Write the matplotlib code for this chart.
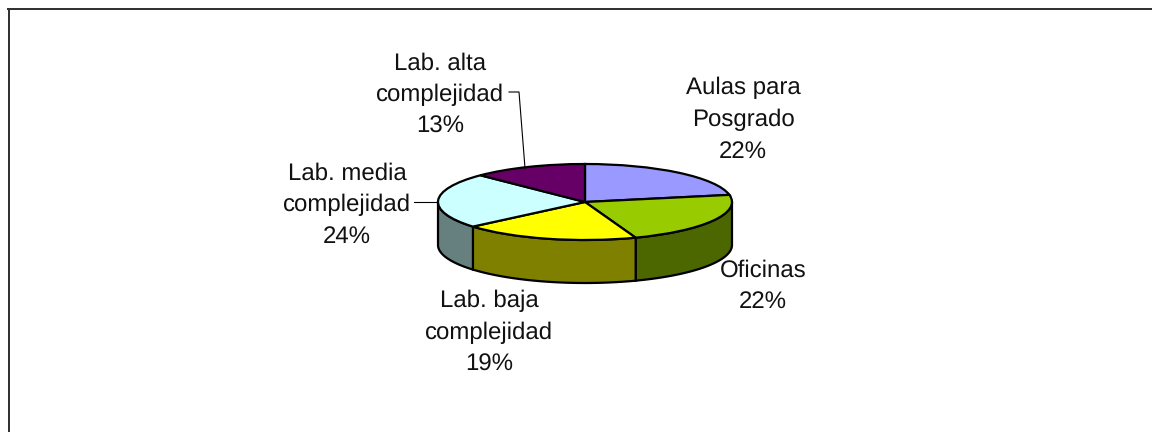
import numpy as np
import matplotlib
matplotlib.use('Agg')
import matplotlib.pyplot as plt

plt.rcParams['font.family'] = ['Liberation Sans', 'DejaVu Sans']
plt.rcParams['text.hinting'] = 'no_hinting'
plt.rcParams['text.hinting_factor'] = 1

# ============ #
# === Data === #
# ============ #

labels = ['Aulas para\nPosgrado', 'Oficinas', 'Lab. baja\ncomplejidad',
          'Lab. media\ncomplejidad', 'Lab. alta\ncomplejidad']
# read from the slice boundaries, the labels show them rounded
values = [22.0, 22.4, 19.4, 23.6, 12.6]
top_colors = ['#9999FF', '#99CC00', '#FFFF00', '#CCFFFF', '#660066']
side_colors = ['#4C4C80', '#4C6600', '#808000', '#668080', '#330033']

# ============== #
# === Layout === #
# ============== #

W, H = 1152, 432
CX, CY = 585, 202   # pie centre in pixels
RX, RY = 147, 38    # ellipse radii
DEPTH = 43 / RY

label_pos = [(743, 120), (763, 286), (489, 333), (347, 205), (440, 95)]

fig = plt.figure(figsize=(W/100, H/100), dpi=100)
ax = fig.add_axes([0, 0, 1, 1])

# === sides first, only the front half is visible ===
edges = np.cumsum([0] + values) / sum(values) * 2*np.pi
for i in range(len(values)):
    t = np.linspace(edges[i], edges[i+1], 80)
    x, y = np.sin(t), np.cos(t)
    front = y <= 0.02
    if not front.any():
        continue
    x, y = x[front], y[front]
    ax.fill(np.r_[x, x[::-1]], np.r_[y, y[::-1]-DEPTH], fc=side_colors[i],
            ec='black', lw=1.6, zorder=1)

# === top face ===
ax.pie(values, startangle=90, counterclock=False, colors=top_colors, radius=1,
       wedgeprops={'edgecolor': 'black', 'linewidth': 1.6, 'zorder': 2})

ax.set_aspect('auto')
ax.set_xlim(-CX/RX, (W-CX)/RX)
ax.set_ylim((CY-H)/RY, CY/RY)
ax.axis('off')

# === outer frame, left and top only reach the border of the picture ===
fig.add_artist(plt.Line2D([8.5/W, 8.5/W], [0, 1-9/H], color='#333333', lw=1.44))
fig.add_artist(plt.Line2D([7.5/W, 1], [1-9/H, 1-9/H], color='#333333', lw=1.44))

# === labels ===
for lab, val, (px, py) in zip(labels, values, label_pos):
    fig.text(px/W, 1-py/H, f'{lab}\n{val:.0f}%', ha='center', va='center',
             fontsize=17, linespacing=1.54, color='#111111', zorder=5)

# === leader lines ===
fig.add_artist(plt.Line2D([414/W, 438/W], [1-202/H, 1-202/H], color='black', lw=0.8))
fig.add_artist(plt.Line2D([509/W, 519/W, 525/W], [1-92/H, 1-92/H, 1-168/H], color='black', lw=0.8))

fig.savefig('out.png', dpi=100, facecolor='white')
